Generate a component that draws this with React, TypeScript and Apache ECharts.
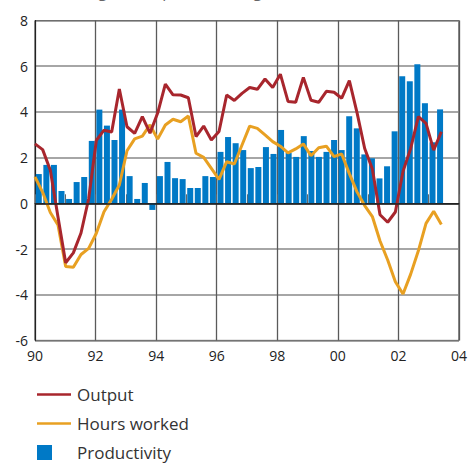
import React, { useEffect, useRef } from "react";
import * as echarts from "echarts";

// Quarterly data, 1990 Q1 – 2003 Q2, four-quarter percentage change
const productivity = [
  1.28, 1.68, 1.68, 0.54, 0.19, 0.93, 1.15, 2.73, 4.1, 3.4,
  2.77, 4.1, 1.19, 0.19, 0.89, -0.29, 1.19, 1.81, 1.1, 1.06,
  0.67, 0.67, 1.19, 1.15, 2.25, 2.9, 2.63, 2.33, 1.54, 1.59,
  2.46, 2.16, 3.21, 2.2, 2.03, 2.94, 2.29, 2.03, 2.25, 2.77,
  2.33, 3.81, 3.28, 2.14, 1.97, 1.09, 1.62, 3.15, 5.56, 5.34,
  6.08, 4.38, 2.67, 4.11,
];
const output = [
  2.6, 2.35, 1.45, -0.6, -2.6, -2.17, -1.3, 0.2, 2.75, 3.2,
  3.12, 5.0, 3.35, 3.06, 3.79, 3.07, 3.95, 5.22, 4.75, 4.74,
  4.62, 2.92, 3.38, 2.77, 3.14, 4.74, 4.5, 4.81, 5.07, 4.99,
  5.44, 5.07, 5.65, 4.46, 4.42, 5.51, 4.51, 4.42, 4.9, 4.86,
  4.6, 5.37, 3.97, 2.4, 1.5, -0.5, -0.83, -0.38, 1.4, 2.4,
  3.79, 3.5, 2.33, 3.13,
];
const hoursWorked = [
  1.16, 0.48, -0.4, -0.95, -2.77, -2.8, -2.24, -1.97, -1.31, -0.37,
  0.18, 0.8, 2.3, 2.82, 2.94, 3.43, 2.81, 3.43, 3.68, 3.57,
  3.82, 2.19, 2.01, 1.53, 1.05, 1.82, 1.72, 2.55, 3.38, 3.28,
  2.99, 2.7, 2.5, 2.21, 2.38, 2.6, 2.08, 2.43, 2.5, 2.04,
  2.16, 1.3, 0.5, -0.1, -0.58, -1.65, -2.48, -3.43, -3.97, -3.1,
  -2.08, -0.88, -0.35, -0.93,
];
const startYear = 1990;
const endYear = 2004;
const seriesNames = ["Output", "Hours worked", "Productivity"];
const titleText = "Percentage four-quarter change";

const FONT = "'Open Sans', 'Noto Sans', sans-serif";
const LINE_ICON = "path://M0 0H34V2.4H0Z";

export default function App() {
  const ref = useRef<HTMLDivElement>(null);
  useEffect(() => {
    if (!ref.current) return;
    const chart = echarts.init(ref.current, null, { renderer: "svg" });
    const barData = productivity.map((v, i) => [startYear + 0.125 + i * 0.25, v]);
    const outData = output.map((v, i) => [i, v]);
    const hoursData = hoursWorked.map((v, i) => [i, v]);
    const legendText = { fontSize: 17, color: "#333", fontFamily: FONT };
    const legendBase = {
      orient: "vertical",
      left: 32,
      itemWidth: 34,
      itemHeight: 15,
      symbolKeepAspect: true,
      selectedMode: false,
    };
    chart.setOption({
      animation: false,
      textStyle: { fontFamily: FONT },
      graphic: [
        {
          type: "text",
          left: 32,
          top: -17.5,
          style: { text: titleText, fontSize: 16, fill: "#666", fontFamily: FONT },
        },
      ],
      legend: [
        {
          ...legendBase,
          top: 381,
          textStyle: { ...legendText, padding: [0, 0, 0, 1] },
          data: [{ name: seriesNames[0], icon: LINE_ICON }],
        },
        {
          ...legendBase,
          top: 410,
          textStyle: { ...legendText, padding: [0, 0, 0, 1] },
          data: [{ name: seriesNames[1], icon: LINE_ICON }],
        },
        {
          ...legendBase,
          top: 439,
          itemWidth: 15,
          textStyle: { ...legendText, padding: [0, 0, 0, 20] },
          data: [{ name: seriesNames[2], icon: "rect" }],
        },
      ],
      grid: {
        left: 35,
        right: 9,
        top: 20.5,
        bottom: 122.6,
        show: true,
        borderColor: "#222",
        borderWidth: 1,
        backgroundColor: "transparent",
      },
      xAxis: [
        {
          type: "value",
          min: startYear,
          max: endYear,
          interval: 2,
          axisLine: { show: true, lineStyle: { color: "#222", width: 1 } },
          axisTick: { show: true, inside: true, length: 9, lineStyle: { color: "#666" } },
          minorTick: { show: true, splitNumber: 2, length: 9, lineStyle: { color: "#666" } },
          splitLine: { show: true, lineStyle: { color: "#5a5a5a", width: 1.3 } },
          axisLabel: {
            fontSize: 14,
            color: "#222",
            margin: 8,
            formatter: (v: number) => String(v % 100).padStart(2, "0"),
          },
        },
        {
          type: "value",
          min: 0,
          max: 55.3,
          show: false,
          splitLine: { show: false },
        },
      ],
      yAxis: {
        type: "value",
        min: -6,
        max: 8,
        interval: 2,
        axisLine: { show: true, lineStyle: { color: "#222", width: 1 } },
        axisTick: { show: false },
        splitLine: { show: true, lineStyle: { color: "#888", width: 1.5 } },
        axisLabel: { fontSize: 14, color: "#222", margin: 7 },
      },
      series: [
        {
          name: seriesNames[2],
          type: "bar",
          xAxisIndex: 0,
          data: barData,
          barWidth: 6,
          itemStyle: { color: "#0079c6" },
          markLine: {
            silent: true,
            symbol: "none",
            label: { show: false },
            lineStyle: { color: "#222", width: 1.5, type: "solid" },
            data: [{ yAxis: 0 }],
          },
        },
        {
          name: seriesNames[1],
          type: "line",
          xAxisIndex: 1,
          data: hoursData,
          showSymbol: false,
          symbol: "none",
          lineStyle: { color: "#e8a022", width: 3 },
          itemStyle: { color: "#e8a022" },
        },
        {
          name: seriesNames[0],
          type: "line",
          xAxisIndex: 1,
          data: outData,
          showSymbol: false,
          symbol: "none",
          lineStyle: { color: "#a8262d", width: 3 },
          itemStyle: { color: "#a8262d" },
        },
      ],
    });
    return () => chart.dispose();
  }, []);
  return (
    <div
      ref={ref}
      style={{ position: "absolute", left: 0, top: 0, width: 470, height: 463 }}
    />
  );
}
